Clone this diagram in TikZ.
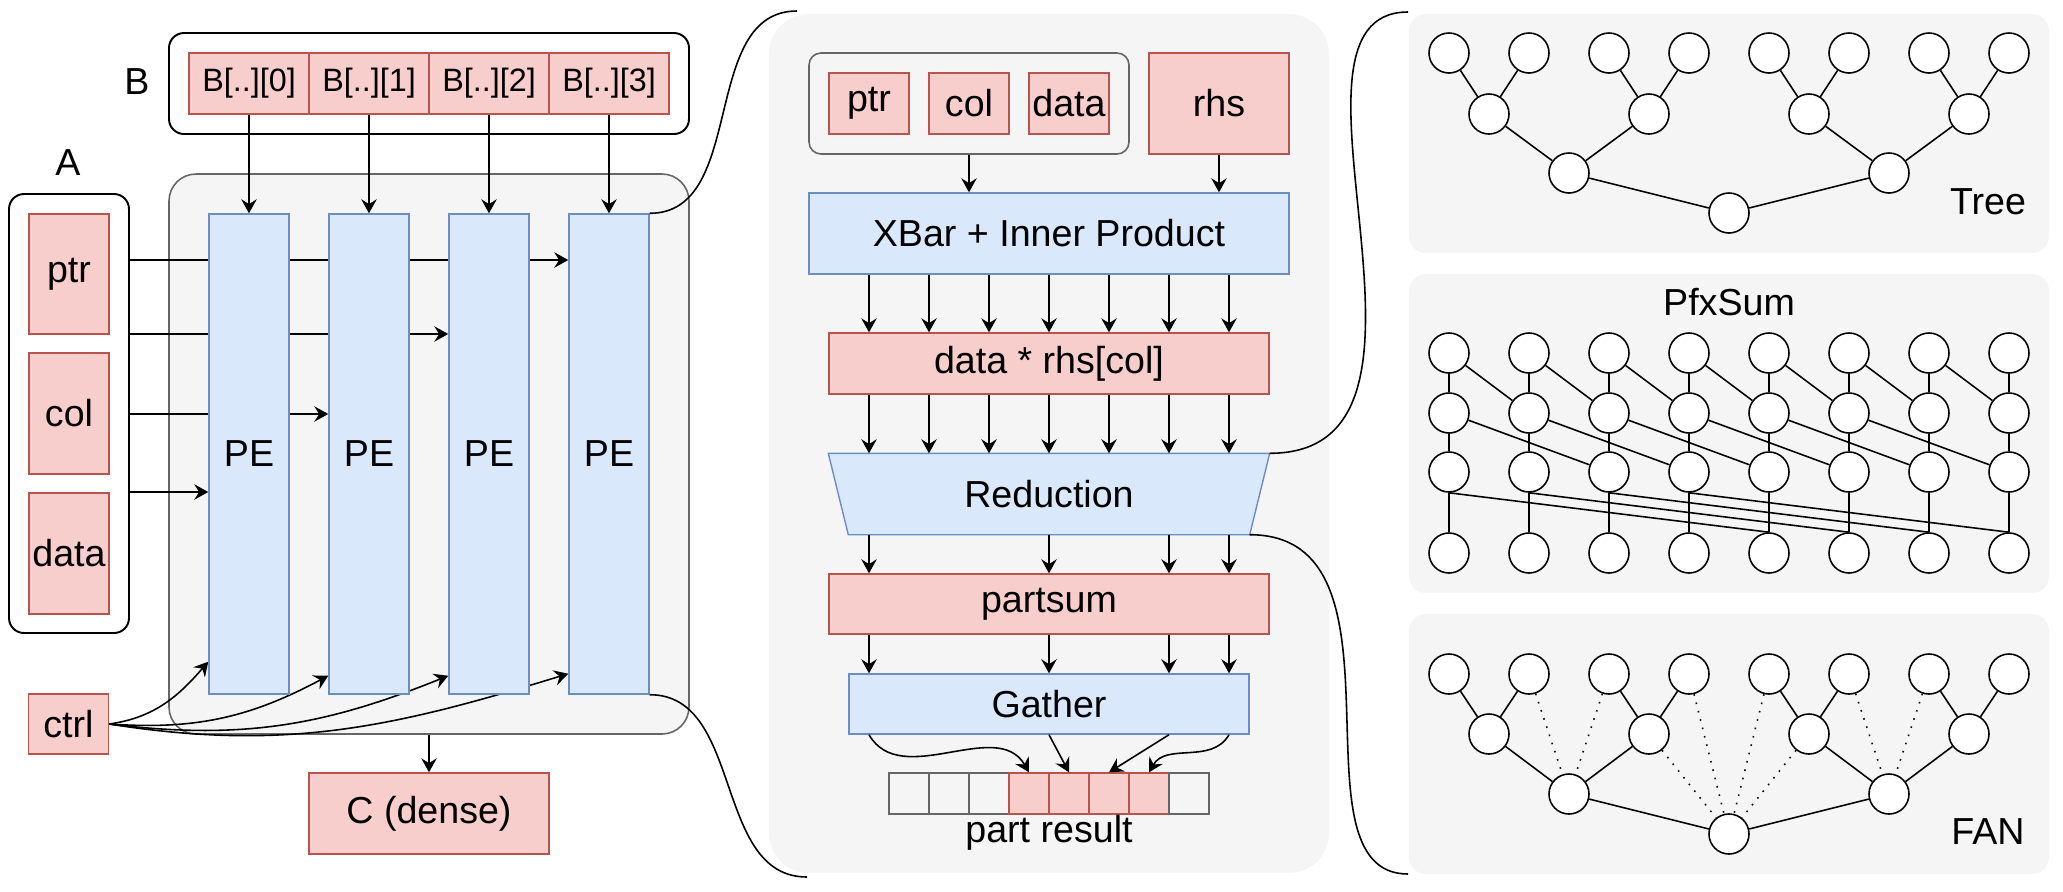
\documentclass[tikz,border=0pt]{standalone}
\usepackage{fontspec}
\setmainfont{Liberation Sans}
\usetikzlibrary{arrows.meta}

\definecolor{redfill}{HTML}{F8CECC}
\definecolor{redline}{HTML}{B85450}
\definecolor{bluefill}{HTML}{DAE8FC}
\definecolor{blueline}{HTML}{6C8EBF}
\definecolor{panelfill}{HTML}{F5F5F5}
\definecolor{panelline}{HTML}{666666}

\pgfdeclarelayer{back}
\pgfdeclarelayer{mid}
\pgfsetlayers{back,mid,main}

\tikzset{
  redbox/.style={draw=redline, fill=redfill, line width=0.4pt, inner sep=0pt, minimum width=0.8cm, minimum height=0.61cm},
  bluebox/.style={draw=blueline, fill=bluefill, line width=0.4pt, inner sep=0pt},
  gcell/.style={draw=panelline, fill=panelfill, line width=0.45pt, inner sep=0pt},
  holder/.style={draw=black, line width=0.55pt, rounded corners=0.15cm, inner sep=0pt},
  panel/.style={fill=panelfill, rounded corners=0.17cm, inner sep=0pt},
  arr/.style={-{Stealth[length=4pt,width=4.4pt,inset=1.4pt]}, line width=0.45pt},
  link/.style={line width=0.45pt},
  tnode/.style={circle, draw, fill=white, line width=0.45pt, minimum size=0.4cm, inner sep=0pt},
}

\begin{document}
\begin{tikzpicture}[font=\fontsize{10.7}{12.8}\selectfont]
\useasboundingbox (0,0) rectangle (20.63,-8.91);

% panels
\begin{pgfonlayer}{back}
\node[panel, draw=panelline, line width=0.45pt, rounded corners=0.27cm, minimum width=5.2cm, minimum height=5.6cm] (pebox) at (4.29,-4.54) {};
\node[panel, rounded corners=0.4cm, minimum width=5.6cm, minimum height=8.59cm] (midpanel) at (10.49,-4.435) {};
\node[panel, minimum width=6.4cm, minimum height=2.39cm] (treepanel) at (17.29,-1.335) {};
\node[panel, minimum width=6.4cm, minimum height=3.19cm] (pfxpanel) at (17.29,-4.335) {};
\node[panel, minimum width=6.4cm, minimum height=2.6cm] (fanpanel) at (17.29,-7.44) {};
\end{pgfonlayer}

% B
\node[holder, minimum width=5.2cm, minimum height=1.01cm] (bbox) at (4.29,-0.835) {};
\node (blabel) at (1.37,-0.82) {B};
\foreach \i in {0,...,3}
  \node[redbox, minimum width=1.2cm, font=\fontsize{9.2}{11}\selectfont] (b\i) at (2.49+1.2*\i,-0.835) {B[..][\i]};

% PEs
\foreach \i in {0,...,3}
  \node[bluebox, minimum width=0.8cm, minimum height=4.8cm] (pe\i) at (2.49+1.2*\i,-4.54) {PE};
\foreach \i in {0,...,3} \draw[arr] (b\i) -- (pe\i);

% A
\node[holder, minimum width=1.2cm, minimum height=4.39cm] (abox) at (0.69,-4.135) {};
\node (alabel) at (0.68,-1.63) {A};
\node[redbox, minimum height=1.2cm] (aptr) at (0.69,-2.74) {ptr};
\node[redbox, minimum height=1.21cm] (acol) at (0.69,-4.135) {col};
\node[redbox, minimum height=1.21cm] (adata) at (0.69,-5.535) {data};
\coordinate (y3) at (0,-2.60);
\coordinate (y2) at (0,-3.34);
\coordinate (y1) at (0,-4.14);
\coordinate (y0) at (0,-4.92);
\begin{pgfonlayer}{mid}
\foreach \i in {0,...,3} \draw[arr] (abox.east |- y\i) -- (pe\i.west |- y\i);
\end{pgfonlayer}

% ctrl
\node[redbox, minimum height=0.6cm] (ctrl) at (0.685,-7.24) {ctrl};
\begin{pgfonlayer}{mid}
\draw[arr] (ctrl.east) to[out=8,in=229] ([yshift=0.33cm]pe0.south west);
\draw[arr] (ctrl.east) to[out=-4,in=208] ([yshift=0.19cm]pe1.south west);
\draw[arr] (ctrl.east) to[out=-7,in=202] ([yshift=0.19cm]pe2.south west);
\draw[arr] (ctrl.east) to[out=-9,in=197] ([yshift=0.21cm]pe3.south west);
\end{pgfonlayer}

% C
\node[redbox, minimum width=2.4cm, minimum height=0.81cm] (cdense) at (4.29,-8.135) {C (dense)};
\draw[arr] (pebox) -- (cdense);

% links to the middle panel
\coordinate (midtop) at (7.97,-0.11);
\coordinate (midbot) at (8.07,-8.77);
\draw[link] (pe3.north east) to[out=0,in=180] (midtop);
\draw[link] (pe3.south east) to[out=0,in=180] (midbot);

% middle panel
\node[draw=panelline, fill=panelfill, line width=0.45pt, rounded corners=0.12cm, minimum width=3.2cm, minimum height=1.01cm] (grp) at (9.69,-1.035) {};
\node[redbox] (mptr) at (8.69,-1.035) {ptr};
\node[redbox] (mcol) at (9.69,-1.035) {col};
\node[redbox] (mdata) at (10.69,-1.035) {data};
\node[redbox, minimum width=1.4cm, minimum height=1.01cm] (rhs) at (12.19,-1.035) {rhs};
\node[bluebox, minimum width=4.8cm, minimum height=0.81cm] (xbar) at (10.49,-2.335) {XBar + Inner Product};
\node[redbox, minimum width=4.4cm] (mult) at (10.49,-3.635) {data * rhs[col]};
\node[minimum width=4.4cm, minimum height=0.8cm, inner sep=0pt] (red) at (10.49,-4.94) {Reduction};
\begin{pgfonlayer}{mid}
\draw[bluebox] (red.north west) -- (red.north east) -- ([xshift=-0.2cm]red.south east) -- ([xshift=0.2cm]red.south west) -- cycle;
\end{pgfonlayer}
\node[redbox, minimum width=4.4cm, minimum height=0.6cm] (psum) at (10.49,-6.04) {partsum};
\node[bluebox, minimum width=4.0cm, minimum height=0.6cm] (gath) at (10.49,-7.04) {Gather};
\foreach \k/\s in {0/gcell,1/gcell,2/gcell,3/redbox,4/redbox,5/redbox,6/redbox,7/gcell}
  \node[\s, minimum width=0.4cm, minimum height=0.41cm] (r\k) at (9.09+0.4*\k,-7.935) {};
\node (plabel) at (10.49,-8.33) {part result};

\foreach \k in {0,...,6} \coordinate (c\k) at (8.69+0.6*\k,0);
\draw[arr] (grp.south) -- (grp.south |- xbar.north);
\draw[arr] (rhs) -- (rhs.south |- xbar.north);
\foreach \k in {0,...,6} {
  \draw[arr] (xbar.south -| c\k) -- (mult.north -| c\k);
  \draw[arr] (mult.south -| c\k) -- (red.north -| c\k);
}
\foreach \k in {0,3,5,6} {
  \draw[arr] (red.south -| c\k) -- (psum.north -| c\k);
  \draw[arr] (psum.south -| c\k) -- (gath.north -| c\k);
}
\draw[arr] (gath.south -| c0) to[out=-60,in=120] (r3.north);
\draw[arr] (gath.south -| c3) -- (r4.north);
\draw[arr] (gath.south -| c5) -- (r5.north);
\draw[arr] (gath.south -| c6) to[out=-120,in=60] (r6.north);

% links to the trees
\coordinate (treetop) at (14.08,-0.12);
\coordinate (fanbot) at (14.08,-8.74);
\draw[link] (red.north east) to[out=0,in=180,out looseness=1.16,in looseness=0.84] (treetop);
\draw[link] ([xshift=-0.2cm]red.south east) to[out=0,in=180,out looseness=1.16,in looseness=0.84] (fanbot);

% Tree and FAN
\foreach \pn/\ya/\yb/\yc/\yd in {t/-0.53/-1.14/-1.73/-2.13, f/-6.74/-7.34/-7.94/-8.34} {
  \foreach \i in {0,...,7} \node[tnode] (\pn a\i) at (14.49+0.8*\i,\ya) {};
  \foreach \i in {0,...,3} \node[tnode] (\pn b\i) at (14.89+1.6*\i,\yb) {};
  \foreach \i in {0,1} \node[tnode] (\pn c\i) at (15.69+3.2*\i,\yc) {};
  \node[tnode] (\pn d) at (17.29,\yd) {};
  \foreach \i [evaluate=\i as \j using int(2*\i), evaluate=\i as \k using int(2*\i+1)] in {0,...,3}
    \draw[link] (\pn b\i) -- (\pn a\j) (\pn b\i) -- (\pn a\k);
  \draw[link] (\pn c0) -- (\pn b0) (\pn c0) -- (\pn b1) (\pn c1) -- (\pn b2) (\pn c1) -- (\pn b3);
  \draw[link] (\pn d) -- (\pn c0) (\pn d) -- (\pn c1);
}
\draw[link, dotted] (fa1) -- (fc0) (fa2) -- (fc0) (fa3) -- (fd) (fb1) -- (fd)
  (fa4) -- (fd) (fb2) -- (fd) (fa5) -- (fc1) (fa6) -- (fc1);

% PfxSum
\foreach \r/\y in {a/-3.53,b/-4.13,c/-4.72,d/-5.53}
  \foreach \i in {0,...,7} \node[tnode] (p\r\i) at (14.49+0.8*\i,\y) {};
\foreach \i in {0,...,7} \draw[link] (pa\i) -- (pb\i) -- (pc\i) -- (pd\i);
\foreach \i [evaluate=\i as \j using int(\i+1)] in {0,...,6} \draw[link] (pa\i) -- (pb\j);
\foreach \i [evaluate=\i as \j using int(\i+2)] in {0,...,5} \draw[link] (pb\i) -- (pc\j);
\foreach \i [evaluate=\i as \j using int(\i+4)] in {0,...,3} \draw[link] (pc\i.south) -- (pd\j.north);

\node (treelabel) at (19.88,-2.02) {Tree};
\node (pfxlabel) at (17.29,-3.02) {PfxSum};
\node (fanlabel) at (19.88,-8.32) {FAN};
\end{tikzpicture}
\end{document}
